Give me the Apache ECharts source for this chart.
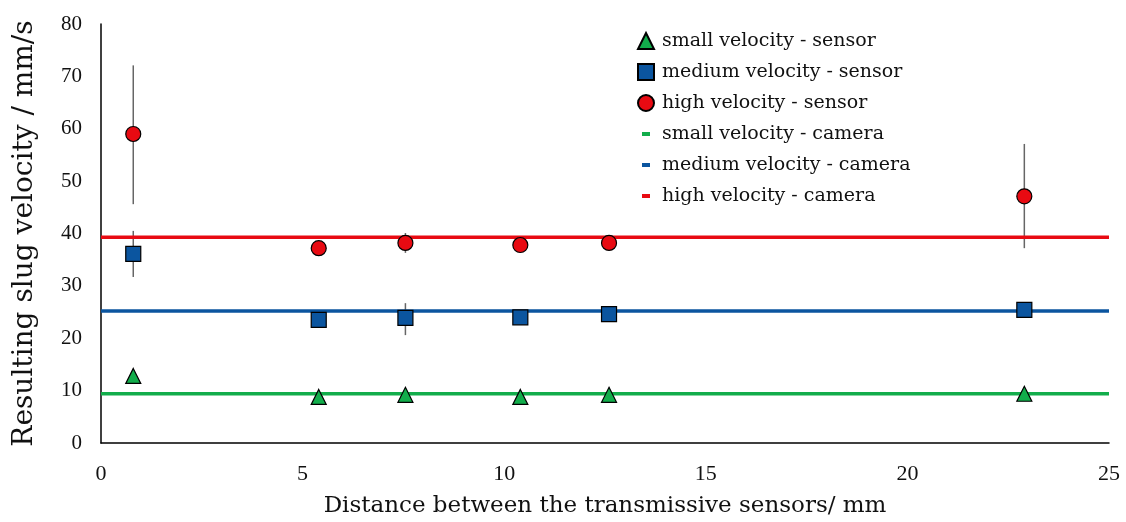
<!DOCTYPE html>
<html><head><meta charset="utf-8">
<script src="https://cdn.jsdelivr.net/npm/echarts@6/dist/echarts.min.js"></script>
<style>html,body{margin:0;padding:0;background:#fff}#c{width:1126px;height:522px}</style>
</head><body><div id="c"></div>
<script>
const distances = [0.8, 5.4, 7.55, 10.4, 12.6, 22.9];
const smallSensor = [12.8, 8.8, 9.2, 8.8, 9.2, 9.4];
const mediumSensor = [36.1, 23.5, 23.9, 24.0, 24.6, 25.4];
const highSensor = [59.0, 37.2, 38.2, 37.8, 38.2, 47.1];
const mediumErrLow = [31.7, null, 20.6, null, null, null];
const mediumErrHigh = [40.5, null, 26.7, null, null, null];
const highErrLow = [45.6, null, 36.3, null, null, 37.2];
const highErrHigh = [72.1, null, 40.1, null, null, 57.1];
const cameraX = [0, 25];
const smallCamera = 9.4;
const mediumCamera = 25.2;
const highCamera = 39.3;
const names = ['small velocity - sensor','medium velocity - sensor','high velocity - sensor','small velocity - camera','medium velocity - camera','high velocity - camera'];

const GREEN = '#12AD4B', BLUE = '#0B559F', RED = '#E80A12';
const FONT = 'Liberation Serif';
const WFONT = 'DejaVu Serif';

function errData(lo, hi) {
  const out = [];
  distances.forEach((x, i) => { if (lo[i] != null) out.push([x, lo[i], hi[i]]); });
  return out;
}
function errSeries(lo, hi) {
  return {
    type: 'custom', silent: true, z: 1,
    data: errData(lo, hi),
    renderItem: function (params, api) {
      const a = api.coord([api.value(0), api.value(1)]);
      const b = api.coord([api.value(0), api.value(2)]);
      return { type: 'line', shape: { x1: a[0], y1: a[1], x2: b[0], y2: b[1] },
        style: { stroke: '#666', lineWidth: 1.5 } };
    },
    encode: { x: 0, y: [1, 2] }
  };
}
const dash = 'path://M0,0h0.05v0.05h-0.05z M15.95,15.95h0.05v0.05h-0.05z M4,6h8v4h-8z';
const chart = echarts.init(document.getElementById('c'));
chart.setOption({
  animation: false,
  grid: { left: 101, right: 17, top: 24, bottom: 79, outerBoundsMode: 'none', containLabel: false },
  legend: {
    orient: 'vertical', left: 632, top: 26, itemGap: 11, itemWidth: 16, itemHeight: 16,
    textStyle: { fontFamily: WFONT, fontSize: 19, lineHeight: 20, color: '#111', padding: [0, 0, 0, 3] },
    data: [
      { name: names[0], icon: 'triangle' },
      { name: names[1], icon: 'rect' },
      { name: names[2], icon: 'circle' },
      { name: names[3], icon: dash },
      { name: names[4], icon: dash },
      { name: names[5], icon: dash }
    ]
  },
  xAxis: {
    type: 'value', min: 0, max: 25, interval: 5,
    name: 'Distance between the transmissive sensors/ mm', nameLocation: 'middle', nameGap: 52,
    nameTextStyle: { fontFamily: WFONT, fontSize: 23, color: '#111' },
    axisLine: { show: true, lineStyle: { color: '#000', width: 1.5 } },
    axisTick: { show: false }, splitLine: { show: false },
    axisLabel: { fontFamily: FONT, fontSize: 22, color: '#111', margin: 20 }
  },
  yAxis: {
    type: 'value', min: 0, max: 80, interval: 10,
    name: 'Resulting slug velocity / mm/s', nameLocation: 'middle', nameGap: 62,
    nameTextStyle: { fontFamily: WFONT, fontSize: 28, color: '#111' },
    axisLine: { show: true, lineStyle: { color: '#000', width: 1.5 } },
    axisTick: { show: false }, splitLine: { show: false },
    axisLabel: { fontFamily: FONT, fontSize: 21, color: '#111', margin: 19 }
  },
  series: [
    { name: names[0], type: 'scatter', symbol: 'triangle', symbolSize: 15, z: 5,
      itemStyle: { color: GREEN, opacity: 1, borderColor: '#000', borderWidth: 1.2 },
      data: distances.map((x, i) => [x, smallSensor[i]]) },
    { name: names[1], type: 'scatter', symbol: 'rect', symbolSize: 15, z: 5,
      itemStyle: { color: BLUE, opacity: 1, borderColor: '#000', borderWidth: 1.2 },
      data: distances.map((x, i) => [x, mediumSensor[i]]) },
    { name: names[2], type: 'scatter', symbol: 'circle', symbolSize: 15, z: 5,
      itemStyle: { color: RED, opacity: 1, borderColor: '#000', borderWidth: 1.2 },
      data: distances.map((x, i) => [x, highSensor[i]]) },
    { name: names[3], type: 'line', showSymbol: false, z: 2, color: GREEN,
      lineStyle: { color: GREEN, width: 3.5 }, itemStyle: { color: GREEN },
      data: cameraX.map(x => [x, smallCamera]) },
    { name: names[4], type: 'line', showSymbol: false, z: 2, color: BLUE,
      lineStyle: { color: BLUE, width: 3.5 }, itemStyle: { color: BLUE },
      data: cameraX.map(x => [x, mediumCamera]) },
    { name: names[5], type: 'line', showSymbol: false, z: 2, color: RED,
      lineStyle: { color: RED, width: 3.5 }, itemStyle: { color: RED },
      data: cameraX.map(x => [x, highCamera]) },
    errSeries(mediumErrLow, mediumErrHigh),
    errSeries(highErrLow, highErrHigh)
  ]
});
</script></body></html>
